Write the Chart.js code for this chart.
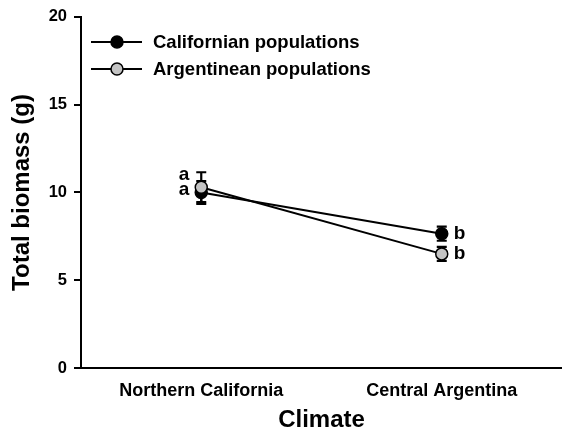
<!DOCTYPE html>
<html>
<head>
<meta charset="utf-8">
<script src="https://cdn.jsdelivr.net/npm/chart.js@4"></script>
<style>
  body { margin: 0; background: #fff; }
  #wrap { width: 562px; height: 432px; }
</style>
</head>
<body>
<div id="wrap"><canvas id="myChart" width="562" height="432"></canvas></div>
<script>
var climates = ['Northern California', 'Central Argentina'];
var californian = [10.0, 7.65];
var californianErr = [0.65, 0.4];
var argentinean = [10.3, 6.5];
var argentineanErr = [0.85, 0.4];
var californianLetters = ['a', 'b'];
var argentineanLetters = ['a', 'b'];
var yTicks = [0, 5, 10, 15, 20];

var FONT = '"Liberation Sans", Arial, sans-serif';

// error bars drawn under the markers
var errorBars = {
    id: 'errorBars',
    beforeDatasetsDraw: function (chart) {
        var ctx = chart.ctx;
        var x = chart.scales.x, y = chart.scales.y;
        ctx.save();
        ctx.strokeStyle = '#000';
        ctx.lineWidth = 2.2;
        chart.data.datasets.forEach(function (ds) {
            ds.data.forEach(function (v, i) {
                var px = x.getPixelForValue(i);
                var top = y.getPixelForValue(v + ds.err[i]);
                var bot = y.getPixelForValue(v - ds.err[i]);
                ctx.beginPath();
                ctx.moveTo(px, top); ctx.lineTo(px, bot);
                ctx.moveTo(px - 5, top); ctx.lineTo(px + 5, top);
                ctx.moveTo(px - 5, bot); ctx.lineTo(px + 5, bot);
                ctx.stroke();
            });
        });
        ctx.restore();
    }
};

// significance letters and the legend box
var extras = {
    id: 'extras',
    afterDraw: function (chart) {
        var ctx = chart.ctx;
        var x = chart.scales.x, y = chart.scales.y;
        var ds = chart.data.datasets;
        ctx.save();
        ctx.fillStyle = '#000';
        ctx.font = 'bold 19px ' + FONT;
        ctx.textBaseline = 'middle';

        // left group: letters to the left, stacked
        var lx = x.getPixelForValue(0);
        ctx.textAlign = 'right';
        ctx.fillText(ds[1].letters[0], lx - 12, y.getPixelForValue(ds[1].data[0]) - 12);
        ctx.fillText(ds[0].letters[0], lx - 12, y.getPixelForValue(ds[0].data[0]) - 3);

        // right group: letters to the right
        var rx = x.getPixelForValue(1);
        ctx.textAlign = 'left';
        ctx.fillText(ds[0].letters[1], rx + 12, y.getPixelForValue(ds[0].data[1]));
        ctx.fillText(ds[1].letters[1], rx + 12, y.getPixelForValue(ds[1].data[1]));

        // legend
        var l0 = chart.chartArea.left;
        ds.forEach(function (d, i) {
            var ly = 42 + i * 27;
            ctx.strokeStyle = '#000';
            ctx.lineWidth = 2;
            ctx.beginPath();
            ctx.moveTo(l0 + 10, ly); ctx.lineTo(l0 + 61, ly);
            ctx.stroke();
            ctx.beginPath();
            ctx.arc(l0 + 36, ly, 6, 0, Math.PI * 2);
            ctx.fillStyle = d.pointBackgroundColor;
            ctx.fill();
            ctx.lineWidth = 1.5;
            ctx.stroke();
            ctx.fillStyle = '#000';
            ctx.font = 'bold 18.5px ' + FONT;
            ctx.textAlign = 'left';
            ctx.fillText(d.label, l0 + 72, ly + 1);
        });
        ctx.restore();
    }
};

var ctx = document.getElementById('myChart').getContext('2d');
var myChart = new Chart(ctx, {
    type: 'line',
    data: {
        labels: climates,
        datasets: [
            {
                label: 'Californian populations',
                data: californian,
                err: californianErr,
                letters: californianLetters,
                borderColor: '#000',
                borderWidth: 2,
                pointRadius: 6,
                pointBackgroundColor: '#000',
                pointBorderColor: '#000',
                pointBorderWidth: 1.5,
                order: 2
            },
            {
                label: 'Argentinean populations',
                data: argentinean,
                err: argentineanErr,
                letters: argentineanLetters,
                borderColor: '#000',
                borderWidth: 2,
                pointRadius: 6,
                pointBackgroundColor: '#c4c4c4',
                pointBorderColor: '#000',
                pointBorderWidth: 1.5,
                order: 1
            }
        ]
    },
    options: {
        responsive: false,
        animation: false,
        layout: { autoPadding: false, padding: { top: 16, right: -1, left: 0, bottom: 0 } },
        plugins: {
            legend: { display: false },
            tooltip: { enabled: false }
        },
        scales: {
            x: {
                offset: true,
                grid: { display: true, drawOnChartArea: false, drawTicks: false },
                border: { color: '#000', width: 2 },
                ticks: {
                    color: '#000',
                    padding: 12,
                    font: { family: FONT, size: 18, weight: 'bold' }
                },
                title: {
                    display: true,
                    text: 'Climate',
                    color: '#000',
                    padding: 0,
                    font: { family: FONT, size: 24, weight: 'bold', lineHeight: 1 }
                },
                afterFit: function (s) {
                    s.height = 64;
                    s.paddingLeft = 0;
                    s.paddingRight = 0;
                }
            },
            y: {
                min: 0,
                max: 20,
                afterBuildTicks: function (s) {
                    s.ticks = yTicks.map(function (v) { return { value: v }; });
                },
                grid: { display: true, drawOnChartArea: false, drawTicks: true, tickLength: 7, color: '#000', lineWidth: 2 },
                border: { color: '#000', width: 2 },
                ticks: {
                    color: '#000',
                    padding: 7,
                    font: { family: FONT, size: 16.5, weight: 'bold' }
                },
                title: {
                    display: true,
                    text: 'Total biomass (g)',
                    color: '#000',
                    padding: { top: 10, bottom: 0 },
                    font: { family: FONT, size: 24, weight: 'bold', lineHeight: 1 }
                },
                afterFit: function (s) { s.width = 81; }
            }
        }
    },
    plugins: [errorBars, extras]
});
</script>
</body>
</html>
